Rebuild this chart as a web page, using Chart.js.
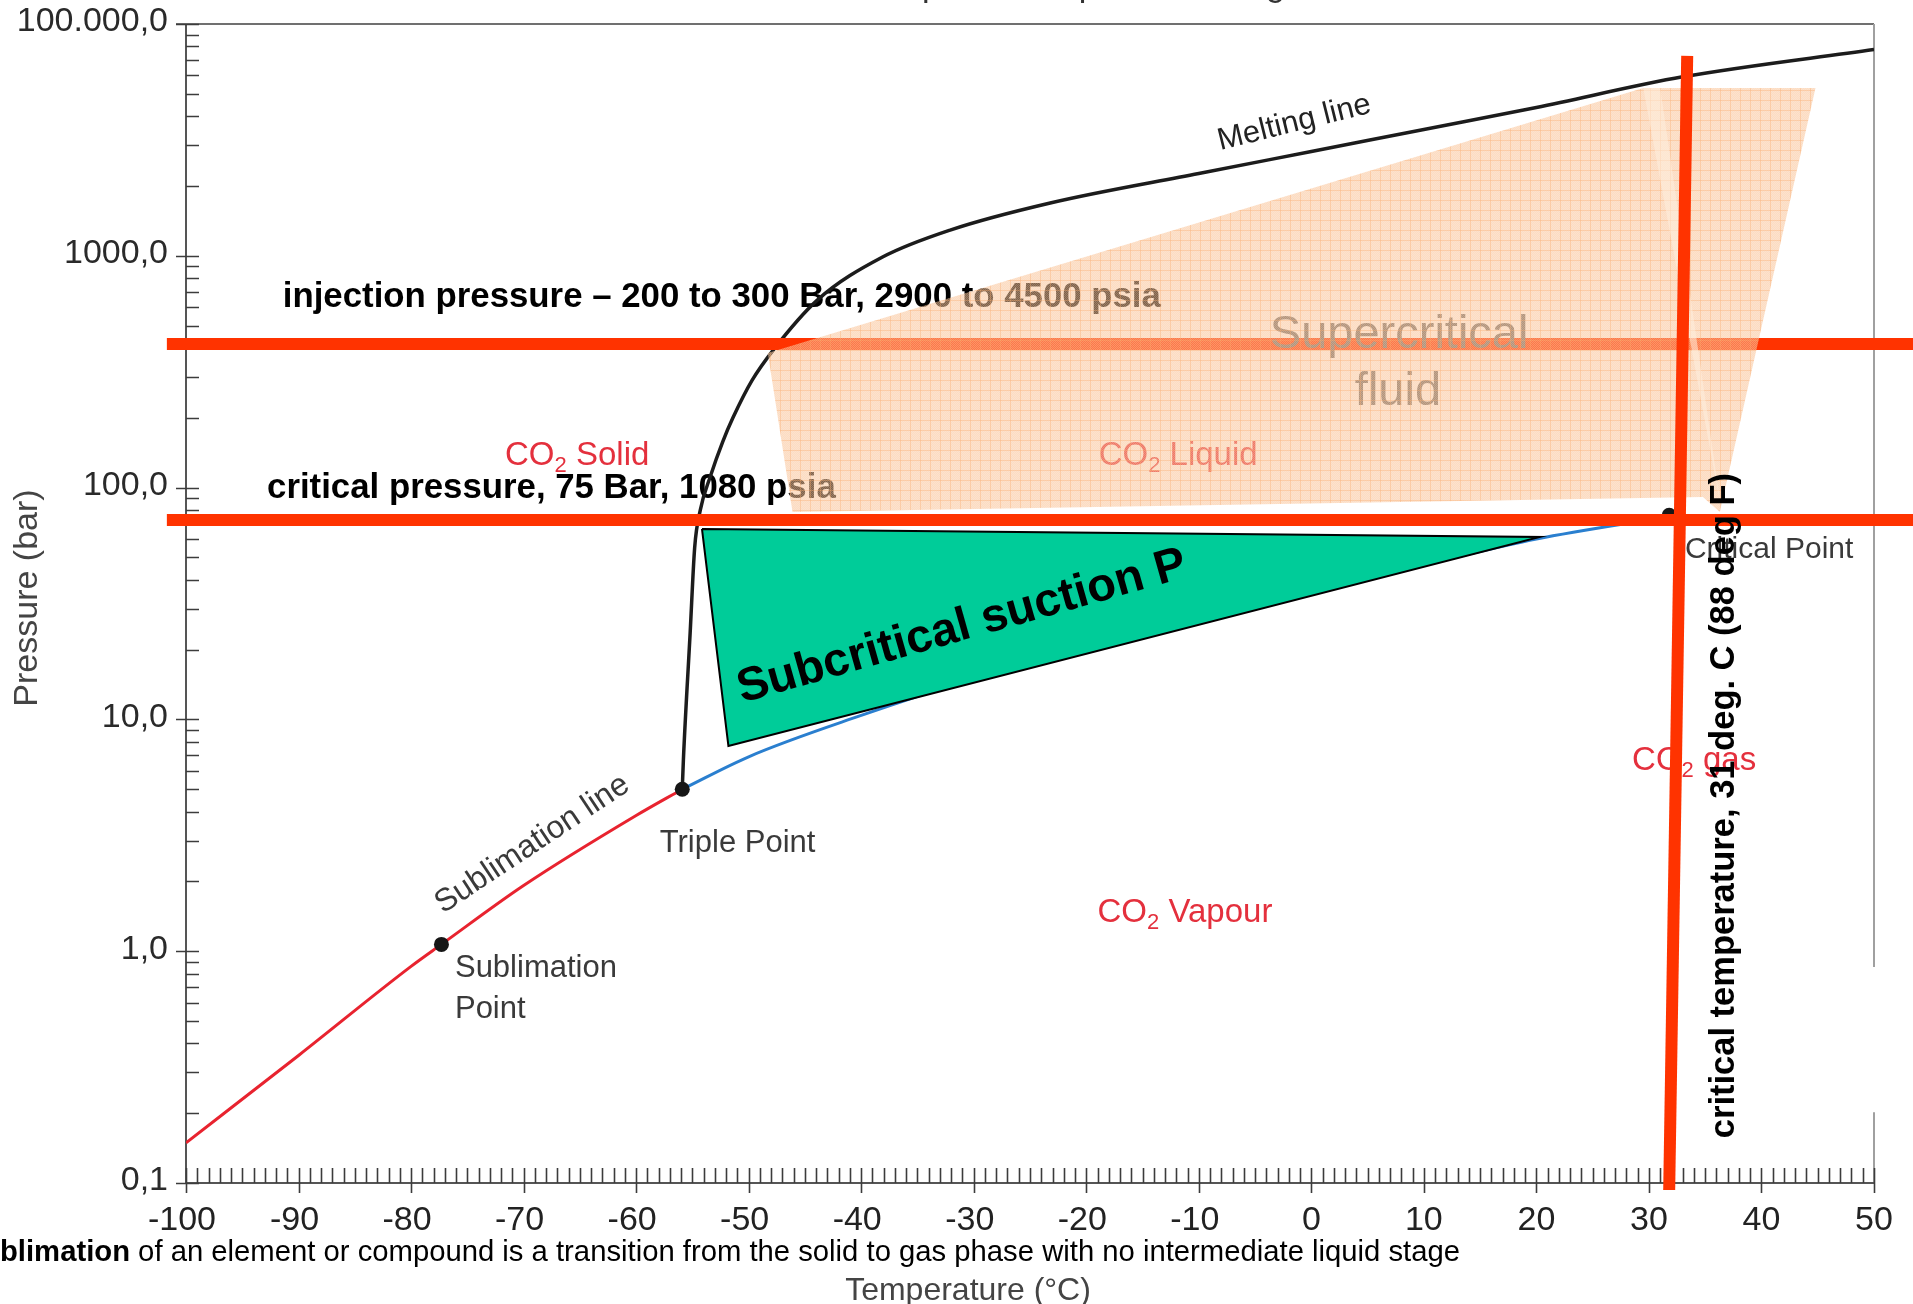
<!DOCTYPE html>
<html lang="en">
<head>
<meta charset="UTF-8">
<title>CO2 phase diagram</title>
<style>
  html, body { margin: 0; padding: 0; background: #fff; overflow: hidden; }
  #wrap { width: 1913px; height: 1304px; }
</style>
</head>
<body>
<div id="wrap"><canvas id="phaseChart" width="1913" height="1304"></canvas></div>
<script src="https://cdn.jsdelivr.net/npm/chart.js"></script>
<script>
// ---- values: temperature in deg C, pressure in bar ----
const sublimationT = [-100, -90, -80, -77.3, -70, -60, -55.9];
const sublimationP = [0.149, 0.355, 0.86, 1.07, 1.92, 3.85, 5.0];

const vapourT = [-55.9, -50, -40, -30, -20, -10, 0, 10, 20, 31.8];
const vapourP = [5.0, 6.9, 10.4, 15.0, 20.5, 27.5, 36, 46.5, 60, 75];

const meltingT = [-55.9, -55.8, -55.2, -54.8, -54.3, -53.4, -52.3, -51.4, -49.7, -47.8, -43.9, -38.1, -32.1, -23.2, -10, 0, 10, 20, 33, 50];
const meltingP = [5.0, 6.7, 23.6, 55, 80, 112, 158, 200, 290, 393, 644, 988, 1291, 1690, 2265, 2818, 3508, 4365, 5916, 7762];

// sublimation point, triple point, critical point
const pointsT = [-77.3, -55.9, 31.8];
const pointsP = [1.07, 5.0, 76];

// red marker lines
const injectionT = [-101.7, 53.5];
const injectionP = [416, 416];
const critPressT = [-101.7, 53.5];
const critPressP = [72.5, 72.5];
const critTempT = [33.4, 31.8];
const critTempP = [7280, 0.0933];

// shaded regions
const superT = [-48.3, 29.5, 44.8, 36.3, 34.8, -46.1, -48.3];
const superP = [381, 5295, 5295, 78.5, 91, 78.5, 381];
const sliverT = [29.5, 31.0, 36.4, 29.5];
const sliverP = [5295, 5295, 82, 5295];
const suctionT = [-54.15, 20.3, -51.8, -54.15];
const suctionP = [66.3, 61.2, 7.68, 66.3];

// axis ticks
const tempTicks = [-100, -90, -80, -70, -60, -50, -40, -30, -20, -10, 0, 10, 20, 30, 40, 50];
const tempLabels = ['-100', '-90', '-80', '-70', '-60', '-50', '-40', '-30', '-20', '-10', '0', '10', '20', '30', '40', '50'];
const pressTicks = [0.1, 1, 10, 100, 1000, 10000];
const pressLabels = ['0,1', '1,0', '10,0', '100,0', '1000,0', '100.000,0'];

const FONT = '"Liberation Sans", Arial, Helvetica, sans-serif';

function pts(ts, ps) {
    return ts.map((t, i) => ({ x: t, y: ps[i] }));
}

function txt(ctx, text, x, y, font, color, align, baseline, angle) {
    ctx.save();
    ctx.translate(x, y);
    if (angle) ctx.rotate(angle * Math.PI / 180);
    ctx.font = font;
    ctx.fillStyle = color;
    ctx.textAlign = align || 'left';
    ctx.textBaseline = baseline || 'alphabetic';
    ctx.fillText(text, 0, 0);
    ctx.restore();
}

// "CO2 ..." with a subscript 2
function co2(ctx, rest, x, y, size, color) {
    ctx.save();
    ctx.fillStyle = color;
    ctx.textBaseline = 'alphabetic';
    ctx.font = size + 'px ' + FONT;
    ctx.fillText('CO', x, y);
    let w = ctx.measureText('CO').width;
    ctx.font = Math.round(size * 0.66) + 'px ' + FONT;
    ctx.fillText('2', x + w, y + size * 0.22);
    w += ctx.measureText('2').width;
    ctx.font = size + 'px ' + FONT;
    ctx.fillText(rest, x + w, y);
    ctx.restore();
}

const canvas = document.getElementById('phaseChart');
const mainCtx = canvas.getContext('2d');

function peachPattern() {
    const c = document.createElement('canvas');
    c.width = 10; c.height = 10;
    const g = c.getContext('2d');
    g.fillStyle = 'rgba(250,188,138,0.52)';
    g.fillRect(0, 0, 10, 10);
    g.fillStyle = 'rgba(255,255,255,0.18)';
    for (let i = 0; i < 10; i++) {
        for (let j = i % 2; j < 10; j += 2) g.fillRect(i, j, 1, 1);
    }
    g.fillStyle = 'rgba(248,170,105,0.35)';
    g.fillRect(0, 0, 10, 1);
    g.fillRect(0, 0, 1, 10);
    return mainCtx.createPattern(c, 'repeat');
}

const INJECTION_INDEX = 4;

// frame, ticks and the labels printed on the diagram
const backdrop = {
    id: 'backdrop',
    beforeDatasetsDraw(chart) {
        const { ctx, chartArea: a, scales: { x, y } } = chart;
        const P = (t, p) => [x.getPixelForValue(t), y.getPixelForValue(p)];
        ctx.save();

        // cut-off title at the very top
        ctx.font = '34px ' + FONT;
        const tx = 922 - ctx.measureText('Carbon dioxide: Tem').width;
        txt(ctx, 'Carbon dioxide: Temperature - pressure diagram', tx, -4, '34px ' + FONT, '#333');

        // box
        ctx.lineCap = 'butt';
        ctx.strokeStyle = '#707070';
        ctx.lineWidth = 2;
        ctx.beginPath();
        ctx.moveTo(a.left - 10, a.top); ctx.lineTo(a.right, a.top);
        ctx.stroke();
        ctx.strokeStyle = '#a0a0a0';
        ctx.beginPath();
        ctx.moveTo(a.right, a.top); ctx.lineTo(a.right, y.getPixelForValue(0.855));
        ctx.moveTo(a.right, y.getPixelForValue(0.202)); ctx.lineTo(a.right, a.bottom);
        ctx.stroke();

        ctx.strokeStyle = '#555';
        ctx.beginPath();
        ctx.moveTo(a.left, a.top); ctx.lineTo(a.left, a.bottom);
        ctx.moveTo(a.left, a.bottom); ctx.lineTo(a.right, a.bottom);
        ctx.stroke();

        // temperature ticks: every degree, long ones every ten
        ctx.strokeStyle = '#3c3c3c';
        ctx.lineWidth = 1.6;
        ctx.beginPath();
        for (let t = -100; t <= 50; t++) {
            const px = Math.round(x.getPixelForValue(t)) + 0.5;
            ctx.moveTo(px, a.bottom - 15);
            ctx.lineTo(px, a.bottom + (t % 10 === 0 ? 10 : 0));
        }
        ctx.stroke();

        // pressure ticks: log minor ticks
        ctx.beginPath();
        for (let e = -1; e < 4; e++) {
            for (let k = 1; k <= 10; k++) {
                const v = k * Math.pow(10, e);
                const py = Math.round(y.getPixelForValue(v)) + 0.5;
                const major = (k === 1 || k === 10);
                ctx.moveTo(a.left - (major ? 10 : 0), py);
                ctx.lineTo(a.left + 13, py);
            }
        }
        ctx.stroke();

        // tick labels
        tempTicks.forEach((t, i) => {
            txt(ctx, tempLabels[i], x.getPixelForValue(t) - (t < 0 ? 4 : 0), a.bottom + 47, '34px ' + FONT, '#222', 'center');
        });
        pressTicks.forEach((p, i) => {
            txt(ctx, pressLabels[i], a.left - 18, y.getPixelForValue(p) - 2, '34px ' + FONT, '#2a2a2a', 'right', 'middle');
        });

        // axis titles
        txt(ctx, 'Pressure (bar)', 28, 598, '34px ' + FONT, '#444', 'center', 'middle', -90);
        txt(ctx, 'Temperature (\u00B0C)', 968, 1300, '32px ' + FONT, '#444', 'center');

        // caption line, starting cut off at the left edge
        ctx.font = 'bold 25px ' + FONT;
        const wSu = ctx.measureText('Su').width;
        const wB = ctx.measureText('Sublimation').width;
        const rest = ' of an element or compound is a transition from the solid to gas phase with no intermediate liquid stage';
        ctx.font = '25px ' + FONT;
        const wR = ctx.measureText(rest).width;
        const s = 1460 / (wB - wSu + wR);
        const fs = (25 * s).toFixed(2);
        txt(ctx, 'Sublimation', -wSu * s, 1261, 'bold ' + fs + 'px ' + FONT, '#000');
        txt(ctx, rest, (wB - wSu) * s, 1261, fs + 'px ' + FONT, '#000');

        // labels on the diagram
        const lab = '#3a3a3a';
        let q = P(-8.1, 2858);
        txt(ctx, 'Melting line', q[0], q[1], '31px ' + FONT, '#222', 'left', 'alphabetic', -13.9);
        q = P(-68.8, 2.69);
        txt(ctx, 'Sublimation line', q[0], q[1], '32px ' + FONT, lab, 'center', 'alphabetic', -33.5);
        q = P(-57.9, 2.68);
        txt(ctx, 'Triple Point', q[0], q[1], '31px ' + FONT, lab);
        q = P(-76.1, 0.774);
        txt(ctx, 'Sublimation', q[0], q[1], '31px ' + FONT, lab);
        q = P(-76.1, 0.515);
        txt(ctx, 'Point', q[0], q[1], '31px ' + FONT, lab);
        q = P(33.2, 49.7);
        txt(ctx, 'Critical Point', q[0], q[1], '30px ' + FONT, lab);

        const red = '#e4303d';
        q = P(-71.65, 125); co2(ctx, ' Solid', q[0], q[1], 33, red);
        q = P(-18.9, 125); co2(ctx, ' Liquid', q[0], q[1], 33, red);
        q = P(-19.0, 1.34); co2(ctx, ' Vapour', q[0], q[1], 33, red);
        q = P(28.5, 6.06); co2(ctx, ' gas', q[0], q[1], 33, red);

        q = P(-91.4, 601);
        txt(ctx, 'injection pressure \u2013 200 to 300 Bar, 2900 to 4500 psia', q[0], q[1], 'bold 34.8px ' + FONT, '#000');
        q = P(-92.8, 90);
        txt(ctx, 'critical pressure, 75 Bar, 1080 psia', q[0], q[1], 'bold 34.8px ' + FONT, '#000');

        ctx.restore();
    },
    // region name sits over the injection line but under the shaded region
    afterDatasetDraw(chart, args) {
        if (args.index !== INJECTION_INDEX) return;
        const { ctx, scales: { x, y } } = chart;
        ctx.save();
        txt(ctx, 'Supercritical', x.getPixelForValue(7.8), y.getPixelForValue(400), '47px ' + FONT, '#6a6a6a', 'center');
        txt(ctx, 'fluid', x.getPixelForValue(7.7), y.getPixelForValue(227), '47px ' + FONT, '#6a6a6a', 'center');
        ctx.restore();
    },
    afterDatasetsDraw(chart) {
        const { ctx, scales: { x, y } } = chart;
        ctx.save();
        let px = x.getPixelForValue(-50.6), py = y.getPixelForValue(11.8);
        txt(ctx, 'Subcritical suction P', px, py, 'bold 47px ' + FONT, '#000', 'left', 'alphabetic', -15.8);
        px = x.getPixelForValue(37.56); py = y.getPixelForValue(0.156);
        txt(ctx, 'critical temperature, 31 deg. C (88 deg F)', px, py, 'bold 34.5px ' + FONT, '#000', 'left', 'alphabetic', -90);
        ctx.restore();
    }
};

const curve = (label, ts, ps, color, width) => ({
    label, data: pts(ts, ps), showLine: true, borderColor: color, borderWidth: width,
    pointRadius: 0, cubicInterpolationMode: 'monotone', order: 10
});
const redLine = (label, ts, ps, order) => ({
    label, data: pts(ts, ps), showLine: true, borderColor: '#ff3300', borderWidth: 12,
    borderCapStyle: 'butt', pointRadius: 0, clip: false, order
});

new Chart(mainCtx, {
    type: 'scatter',
    data: {
        datasets: [
            curve('Sublimation line', sublimationT, sublimationP, '#e8232f', 3),
            curve('Vapour line', vapourT, vapourP, '#2a7fcf', 3),
            curve('Melting line', meltingT, meltingP, '#1c1c1c', 3.5),
            {
                label: 'Points', data: pts(pointsT, pointsP), pointRadius: 7.5,
                pointBackgroundColor: '#161616', pointBorderWidth: 0, order: 9
            },
            redLine('Injection pressure', injectionT, injectionP, 8),
            {
                label: 'Supercritical', data: pts(superT, superP), showLine: true, fill: 'shape',
                backgroundColor: peachPattern(), borderColor: 'rgba(0,0,0,0)', borderWidth: 0,
                pointRadius: 0, clip: false, order: 7
            },
            {
                label: 'Sliver', data: pts(sliverT, sliverP), showLine: true, fill: 'shape',
                backgroundColor: 'rgba(255,238,222,0.55)', borderColor: 'rgba(0,0,0,0)', borderWidth: 0,
                pointRadius: 0, clip: false, order: 6
            },
            redLine('Critical pressure', critPressT, critPressP, 5),
            {
                label: 'Subcritical suction', data: pts(suctionT, suctionP), showLine: true, fill: 'shape',
                backgroundColor: '#00cc99', borderColor: '#000', borderWidth: 2,
                pointRadius: 0, order: 4
            },
            redLine('Critical temperature', critTempT, critTempP, 3)
        ]
    },
    options: {
        responsive: false,
        devicePixelRatio: 1,
        animation: false,
        events: [],
        layout: { padding: { left: 186, right: 39, top: 24, bottom: 121 } },
        scales: {
            x: { type: 'linear', min: -100, max: 50, display: false },
            y: { type: 'logarithmic', min: 0.1, max: 10000, display: false }
        },
        plugins: {
            legend: { display: false },
            tooltip: { enabled: false },
            title: { display: false }
        }
    },
    plugins: [backdrop]
});
</script>
</body>
</html>
